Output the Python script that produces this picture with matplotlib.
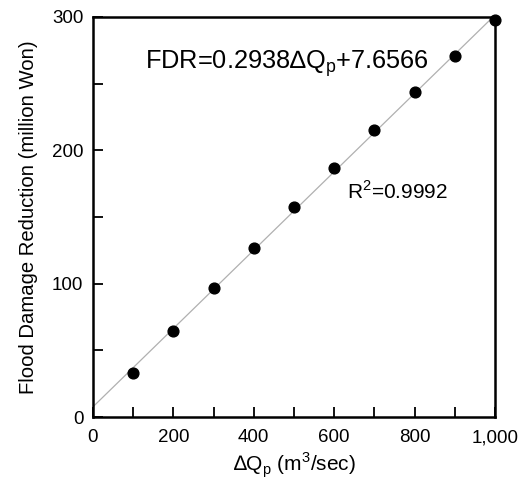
import matplotlib.pyplot as plt
from matplotlib.ticker import MultipleLocator, FuncFormatter

plt.rcParams['font.family'] = ['Liberation Sans', 'DejaVu Sans']
plt.rcParams['mathtext.fontset'] = 'custom'
plt.rcParams['mathtext.rm'] = 'Liberation Sans'

dq = [100, 200, 300, 400, 500, 600, 700, 800, 900, 1000]
fdr = [32.8, 64.7, 96.5, 127.0, 157.5, 186.5, 215.0, 243.7, 270.7, 298.0]
slope = 0.2938
intercept = 7.6566

fig = plt.figure(figsize=(5.18, 4.79), dpi=100)
ax = fig.add_axes([93 / 518, 62 / 479, 402 / 518, 400 / 479])

fit_x = [0, 1000]
fit_y = [intercept + slope * x for x in fit_x]
ax.plot(fit_x, fit_y, color='#b0b0b0', lw=0.9, zorder=1)
ax.scatter(dq, fdr, s=60, color='black', zorder=3, clip_on=False)

ax.set_xlim(0, 1000)
ax.set_ylim(0, 300)
ax.xaxis.set_major_locator(MultipleLocator(200))
ax.xaxis.set_minor_locator(MultipleLocator(100))
ax.yaxis.set_major_locator(MultipleLocator(100))
ax.yaxis.set_minor_locator(MultipleLocator(50))
ax.xaxis.set_major_formatter(FuncFormatter(lambda v, p: f'{int(v):,}'))
ax.tick_params(which='both', direction='in', length=7, width=1.3,
               top=False, right=False, labelsize=13.5)
ax.tick_params(axis='x', pad=9)
ax.tick_params(axis='y', pad=7)
for s in ax.spines.values():
    s.set_linewidth(1.8)

ax.set_xlabel('∆Q$_\\mathregular{p}$ (m$^\\mathregular{3}$/sec)', fontsize=15, labelpad=3)
ax.set_ylabel('Flood Damage Reduction (million Won)', fontsize=14.6, labelpad=10)

ax.text(0.13, 0.87, 'FDR=0.2938∆Q$_\\mathregular{p}$+7.6566', transform=ax.transAxes,
        fontsize=18.3, va='baseline')
ax.text(0.631, 0.545, 'R$^\\mathregular{2}$=0.9992', transform=ax.transAxes,
        fontsize=15, va='baseline')

fig.savefig('out.png', dpi=100)
